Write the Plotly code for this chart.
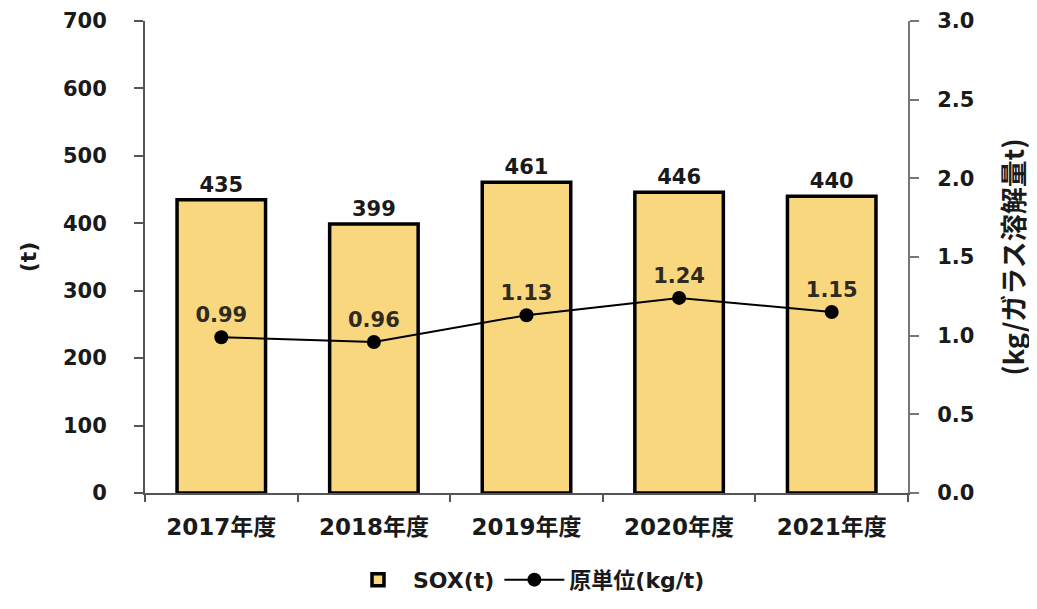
import plotly.graph_objects as go

categories = ["2017年度", "2018年度", "2019年度", "2020年度", "2021年度"]
sox = [435, 399, 461, 446, 440]
intensity = [0.99, 0.96, 1.13, 1.24, 1.15]

FONT = "DejaVu Sans, Noto Sans CJK JP, sans-serif"
CJK = "Noto Sans CJK JP, DejaVu Sans, sans-serif"
TXT = "#1a1a1a"

fig = go.Figure()
fig.add_trace(go.Bar(
    x=categories, y=sox, name="SOX(t)",
    marker=dict(color="#F9D77E", line=dict(color="black", width=3.5)),
    width=0.58,
    text=[str(v) for v in sox], textposition="outside",
    textfont=dict(size=21, color=TXT, family=FONT, weight="bold"),
    cliponaxis=False,
))
fig.add_trace(go.Scatter(
    x=categories, y=intensity, name="原単位(kg/t)", yaxis="y2",
    mode="lines+markers+text",
    line=dict(color="black", width=2),
    marker=dict(color="black", size=14),
    text=[f"{v:.2f}" for v in intensity], textposition="top center",
    textfont=dict(size=21, color="#2e2a20", family=FONT, weight="bold"),
))

fig.update_layout(
    width=1037, height=609,
    margin=dict(l=137, r=137, t=13, b=124, autoexpand=False),
    plot_bgcolor="white", paper_bgcolor="white",
    font=dict(family=FONT, size=21, color=TXT, weight="bold"),
    showlegend=True,
    legend=dict(orientation="h", x=0.5, xanchor="center", y=-0.184, yanchor="middle",
                font=dict(size=22, family=FONT, color=TXT, weight="bold"),
                itemwidth=60, tracegroupgap=30),
    xaxis=dict(showline=True, linecolor="#555", linewidth=2, automargin=False,
               ticks="outside", tickson="boundaries", ticklen=7, tickcolor="#555", tickwidth=2,
               ticklabelstandoff=12,
               tickfont=dict(size=23, family=FONT, color=TXT, weight="bold")),
    yaxis=dict(range=[0, 700], dtick=100, showgrid=False, showline=True, automargin=False,
               linecolor="#555", linewidth=2, ticks="outside", ticklen=9, tickcolor="#555", tickwidth=2,
               zeroline=False, ticklabelstandoff=23,
               tickfont=dict(size=21, family=FONT, color=TXT, weight="bold"),
               title=dict(text="(t)", font=dict(size=22, family=FONT, color=TXT, weight="bold"), standoff=20)),
    yaxis2=dict(range=[0, 3.0], dtick=0.5, tickformat=".1f", overlaying="y", side="right",
                showgrid=False, showline=True, linecolor="#777", linewidth=2, automargin=False,
                ticks="outside", ticklen=9, tickcolor="#777", tickwidth=2, zeroline=False,
                ticklabelstandoff=14,
                tickfont=dict(size=21, family=FONT, color=TXT, weight="bold"),
                title=dict(text="(kg/ガラス溶解量t)", font=dict(size=27, family=CJK, color=TXT, weight="bold"), standoff=32)),
)

fig.write_html("out.html")
